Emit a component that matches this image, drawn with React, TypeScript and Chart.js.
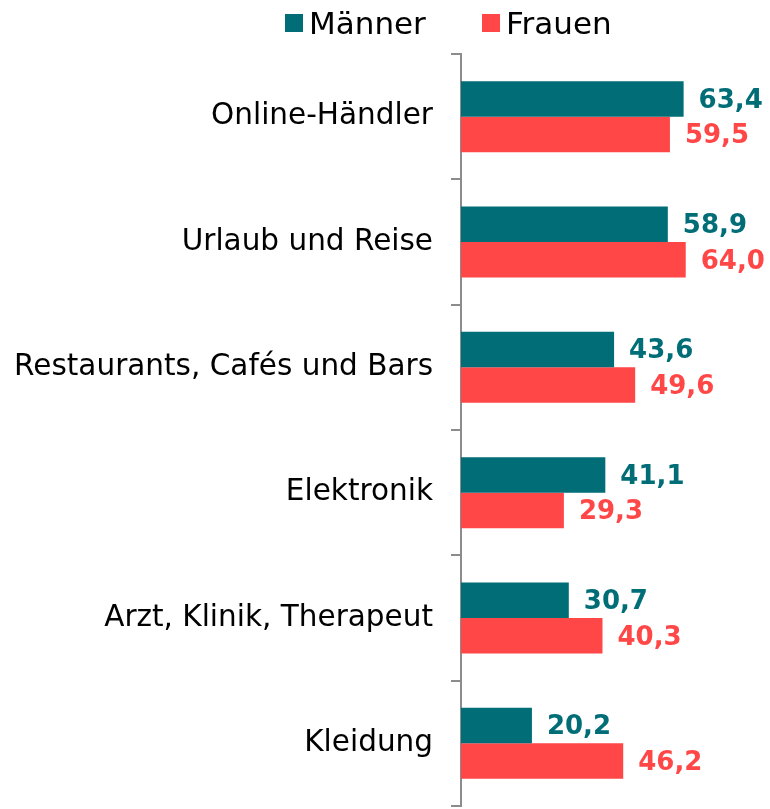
import React, { useEffect, useRef } from "react";
import { Chart, registerables } from "chart.js";

Chart.register(...registerables);

const categories = [
  "Online-Händler",
  "Urlaub und Reise",
  "Restaurants, Cafés und Bars",
  "Elektronik",
  "Arzt, Klinik, Therapeut",
  "Kleidung",
];
const maenner = [63.4, 58.9, 43.6, 41.1, 30.7, 20.2];
const frauen = [59.5, 64.0, 49.6, 29.3, 40.3, 46.2];
const seriesNames = ["Männer", "Frauen"];
const seriesColors = ["#006D77", "#FF4747"];

const FONT = "'DejaVu Sans', Verdana, sans-serif";

const valueLabels = {
  id: "valueLabels",
  afterDatasetsDraw(chart: any) {
    const ctx = chart.ctx;
    ctx.save();
    ctx.font = `bold 26px ${FONT}`;
    ctx.textAlign = "left";
    ctx.textBaseline = "middle";
    chart.data.datasets.forEach((ds: any, di: number) => {
      const meta = chart.getDatasetMeta(di);
      ctx.fillStyle = ds.backgroundColor;
      meta.data.forEach((el: any, i: number) => {
        const v = ds.data[i] as number;
        ctx.fillText(v.toFixed(1).replace(".", ","), el.x + 15, el.y + 2);
      });
    });
    ctx.restore();
  },
};

export default function App() {
  const ref = useRef<HTMLCanvasElement>(null);
  useEffect(() => {
    if (!ref.current) return;
    const chart = new Chart(ref.current, {
      type: "bar",
      data: {
        labels: categories,
        datasets: [
          { label: seriesNames[0], data: maenner, backgroundColor: seriesColors[0], borderWidth: 0 },
          { label: seriesNames[1], data: frauen, backgroundColor: seriesColors[1], borderWidth: 0 },
        ],
      },
      options: {
        indexAxis: "y",
        animation: false,
        responsive: false,
        devicePixelRatio: 1,
        layout: { padding: { top: 54, bottom: 3, left: 0, right: 0 } },
        datasets: { bar: { categoryPercentage: 0.567, barPercentage: 1 } },
        plugins: { legend: { display: false }, tooltip: { enabled: false } },
        scales: {
          x: { display: false, min: 0, max: 88 },
          y: {
            afterFit: (scale: any) => {
              scale.width = 461;
              scale.paddingTop = 0;
              scale.paddingBottom = 0;
            },
            border: { display: true, color: "#8c8c8c", width: 2 },
            grid: {
              display: true,
              drawOnChartArea: false,
              drawTicks: true,
              tickLength: 10,
              color: "#8c8c8c",
              lineWidth: 2,
              offset: true,
            },
            ticks: {
              padding: 18,
              color: "#000000",
              font: { family: FONT, size: 29.5 },
            },
          },
        },
      },
      plugins: [valueLabels],
    });
    return () => chart.destroy();
  }, []);

  const legendItem = (i: number, boxLeft: number, textLeft: number) => (
    <React.Fragment key={i}>
      <span
        style={{
          position: "absolute",
          left: boxLeft,
          top: 14,
          width: 18,
          height: 18,
          background: seriesColors[i],
        }}
      />
      <span
        style={{
          position: "absolute",
          left: textLeft,
          top: 5,
          fontFamily: FONT,
          fontSize: 31,
          color: "#000",
          whiteSpace: "nowrap",
        }}
      >
        {seriesNames[i]}
      </span>
    </React.Fragment>
  );

  return (
    <div style={{ position: "fixed", left: 0, top: 0, width: 770, height: 809, background: "#fff" }}>
      <canvas ref={ref} width={770} height={809} style={{ position: "absolute", left: 0, top: 0 }} />
      {legendItem(0, 285, 309)}
      {legendItem(1, 482, 506)}
    </div>
  );
}
